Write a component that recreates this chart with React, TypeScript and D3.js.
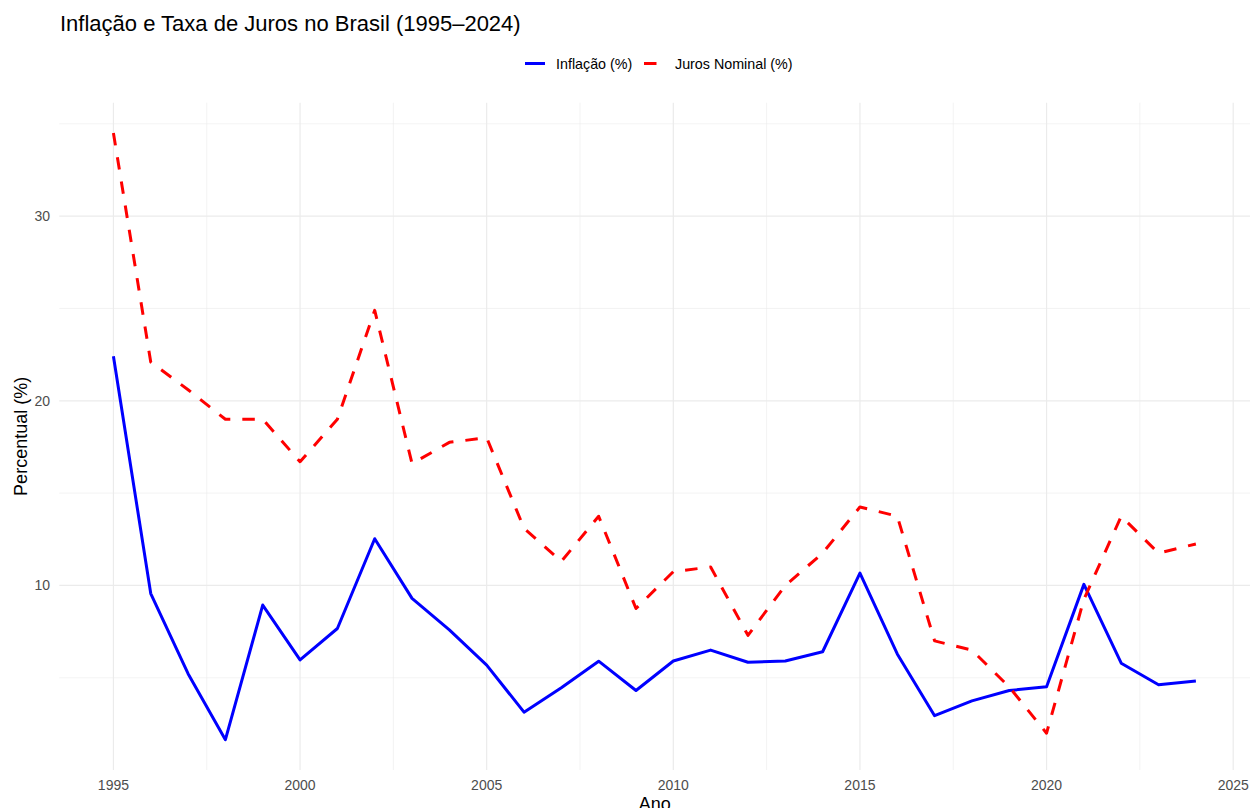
import React from "react";
import * as d3 from "d3";

const years: number[] = [1995,1996,1997,1998,1999,2000,2001,2002,2003,2004,2005,2006,2007,2008,2009,2010,2011,2012,2013,2014,2015,2016,2017,2018,2019,2020,2021,2022,2023,2024];
const inflacao: number[] = [22.41,9.56,5.22,1.65,8.94,5.97,7.67,12.53,9.30,7.60,5.69,3.14,4.46,5.90,4.31,5.91,6.50,5.84,5.91,6.41,10.67,6.29,2.95,3.75,4.31,4.52,10.06,5.79,4.62,4.83];
const juros: number[] = [34.5,22.1,20.6,19.0,19.0,16.7,19.0,24.9,16.6,17.75,18.0,13.1,11.3,13.75,8.75,10.75,11.0,7.3,10.0,11.75,14.25,13.75,7.0,6.5,4.5,2.0,9.25,13.75,11.75,12.25];
const xMajor: number[] = [1995,2000,2005,2010,2015,2020,2025];
const xMinor: number[] = [1997.5,2002.5,2007.5,2012.5,2017.5,2022.5];
const yMajor: number[] = [10,20,30];
const yMinor: number[] = [5,15,25,35];

const W = 1250, H = 808;
const panel = { left: 59.3, right: 1250, top: 102.7, bottom: 770 };
const FONT = "'Liberation Sans', Arial, Helvetica, sans-serif";

export default function App() {
  const xr = d3.extent(years) as [number, number];
  const xPad = (xr[1] - xr[0]) * 0.05;
  const x = d3.scaleLinear().domain([xr[0] - xPad, xr[1] + xPad]).range([panel.left, panel.right]);
  const all = inflacao.concat(juros);
  const yr = d3.extent(all) as [number, number];
  const yPad = (yr[1] - yr[0]) * 0.05;
  const y = d3.scaleLinear().domain([yr[0] - yPad, yr[1] + yPad]).range([panel.bottom, panel.top]);

  const line = d3.line<[number, number]>().x(d => x(d[0])).y(d => y(d[1]));
  const infPath = line(years.map((yy, i) => [yy, inflacao[i]] as [number, number])) || "";
  const jurPath = line(years.map((yy, i) => [yy, juros[i]] as [number, number])) || "";

  const grid = "#EBEBEB";
  return (
    <svg width={W} height={H} style={{ position: "absolute", left: 0, top: 0, background: "#fff" }} fontFamily={FONT}>
      <rect x={0} y={0} width={W} height={H} fill="#fff" />
      {yMinor.map(v => (
        <line key={"ym" + v} x1={panel.left} x2={panel.right} y1={y(v)} y2={y(v)} stroke={grid} strokeWidth={0.6} />
      ))}
      {xMinor.map(v => (
        <line key={"xm" + v} x1={x(v)} x2={x(v)} y1={panel.top} y2={panel.bottom} stroke={grid} strokeWidth={0.6} />
      ))}
      {yMajor.map(v => (
        <line key={"yM" + v} x1={panel.left} x2={panel.right} y1={y(v)} y2={y(v)} stroke={grid} strokeWidth={1.2} />
      ))}
      {xMajor.map(v => (
        <line key={"xM" + v} x1={x(v)} x2={x(v)} y1={panel.top} y2={panel.bottom} stroke={grid} strokeWidth={1.2} />
      ))}
      <path d={infPath} fill="none" stroke="#0000FF" strokeWidth={3} strokeLinejoin="round" />
      <path d={jurPath} fill="none" stroke="#FF0000" strokeWidth={3} strokeDasharray="12.5,12" strokeLinejoin="round" />

      {yMajor.map(v => (
        <text key={"yt" + v} x={50} y={y(v)} dy="0.35em" textAnchor="end" fontSize={14} fill="#4D4D4D">{v}</text>
      ))}
      {xMajor.map(v => (
        <text key={"xt" + v} x={x(v)} y={789.5} textAnchor="middle" fontSize={14} fill="#4D4D4D">{v}</text>
      ))}

      <text x={(panel.left + panel.right) / 2} y={810} textAnchor="middle" fontSize={18} fill="#000">Ano</text>
      <text transform={`translate(27,${(panel.top + panel.bottom) / 2}) rotate(-90)`} textAnchor="middle" fontSize={18} fill="#000">Percentual (%)</text>

      <text x={60} y={31} fontSize={22} fill="#000">Inflação e Taxa de Juros no Brasil (1995–2024)</text>

      <line x1={525} x2={545} y1={63.5} y2={63.5} stroke="#0000FF" strokeWidth={3} />
      <text x={556} y={64} dy="0.35em" fontSize={14.3} fill="#000">Inflação (%)</text>
      <line x1={644} x2={664} y1={63.5} y2={63.5} stroke="#FF0000" strokeWidth={3} strokeDasharray="12.5,12" />
      <text x={675} y={64} dy="0.35em" fontSize={14.3} fill="#000">Juros Nominal (%)</text>
    </svg>
  );
}
